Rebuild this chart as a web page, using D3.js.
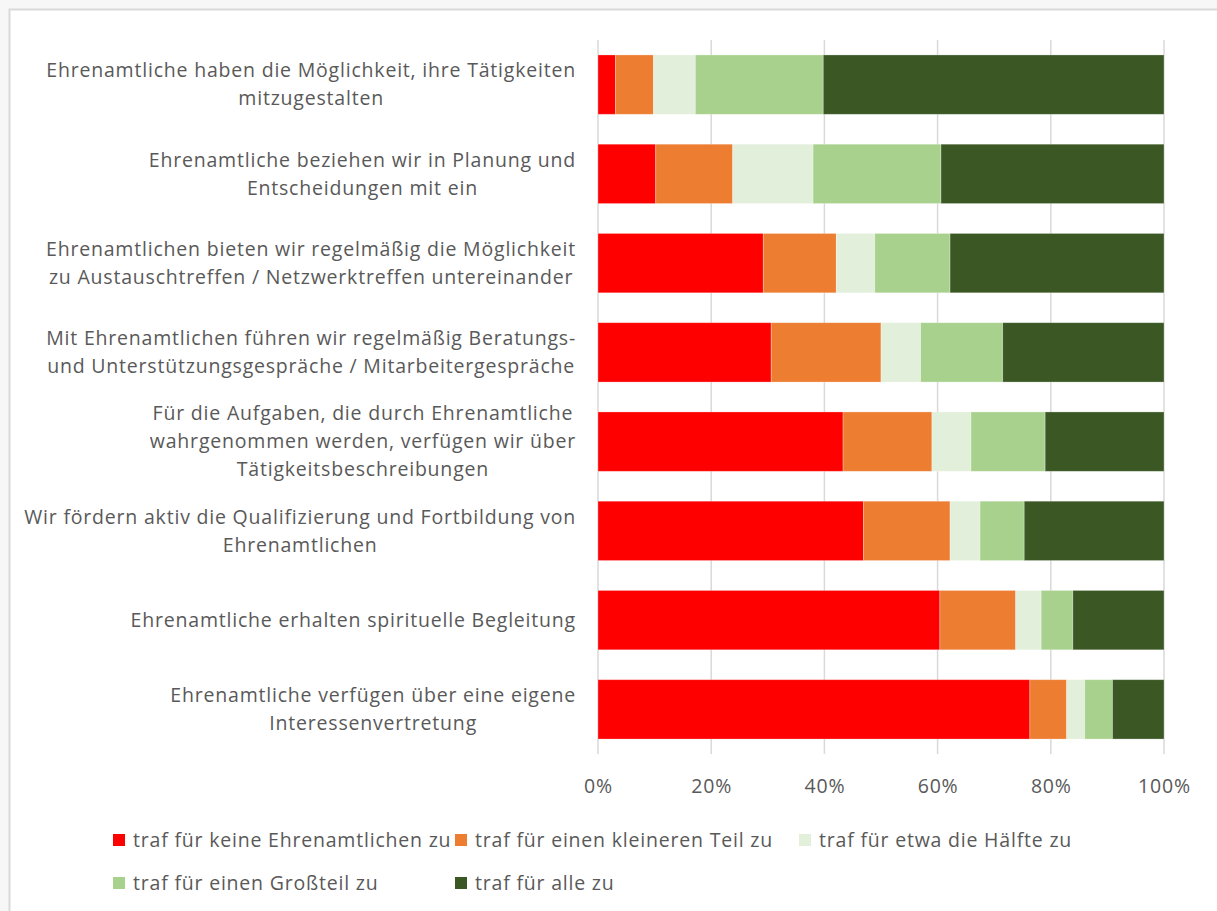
<!DOCTYPE html>
<html>
<head>
<meta charset="utf-8">
<script src="https://cdn.jsdelivr.net/npm/d3@7"></script>
<style>
  html, body { margin: 0; padding: 0; background: #ffffff; }
  svg { display: block; }
  text { font-family: "Open Sans", "Noto Sans", sans-serif; fill: #595959; }
</style>
</head>
<body>
<svg id="chart" width="1217" height="911"></svg>
<script>
// ---------- data ----------
const categories = [
  ["Ehrenamtliche haben die Möglichkeit, ihre Tätigkeiten", "mitzugestalten"],
  ["Ehrenamtliche beziehen wir in Planung und", "Entscheidungen mit ein"],
  ["Ehrenamtlichen bieten wir regelmäßig die Möglichkeit", "zu Austauschtreffen / Netzwerktreffen untereinander"],
  ["Mit Ehrenamtlichen führen wir regelmäßig Beratungs-", "und Unterstützungsgespräche / Mitarbeitergespräche"],
  ["Für die Aufgaben, die durch Ehrenamtliche", "wahrgenommen werden, verfügen wir über", "Tätigkeitsbeschreibungen"],
  ["Wir fördern aktiv die Qualifizierung und Fortbildung von", "Ehrenamtlichen"],
  ["Ehrenamtliche erhalten spirituelle Begleitung"],
  ["Ehrenamtliche verfügen über eine eigene", "Interessenvertretung"]
];
const seriesNames = [
  "traf für keine Ehrenamtlichen zu",
  "traf für einen kleineren Teil zu",
  "traf für etwa die Hälfte zu",
  "traf für einen Großteil zu",
  "traf für alle zu"
];
const keine   = [3.1, 10.2, 29.2, 30.6, 43.3, 46.9, 60.4, 76.3];
const kleiner = [6.7, 13.6, 12.9, 19.4, 15.7, 15.3, 13.4, 6.5];
const haelfte = [7.4, 14.2, 6.8, 7.0, 6.9, 5.3, 4.5, 3.2];
const grossteil = [22.6, 22.6, 13.3, 14.5, 13.1, 7.8, 5.6, 4.9];
const alle    = [60.2, 39.4, 37.8, 28.5, 21.0, 24.7, 16.1, 9.1];
const tickValues = [0, 20, 40, 60, 80, 100];
const colors = ["#FF0000", "#ED7D31", "#E2EFDA", "#A9D18E", "#3A5724"];

// ---------- layout ----------
const svg = d3.select("#chart");
const W = 1217, H = 911;
const plot = { left: 598, right: 1164, top: 40, bottom: 754 };
const fontSize = 19.5, letterSp = 0.8, lineH = 28, labelRight = 576;

// chart frame
svg.append("rect").attr("x", 0).attr("y", 0).attr("width", W).attr("height", H).attr("fill", "#f7f7f7");
svg.append("rect").attr("x", 9.5).attr("y", 9.5).attr("width", W + 20).attr("height", H + 20)
  .attr("fill", "#ffffff").attr("stroke", "#d9d9d9").attr("stroke-width", 2);

const x = d3.scaleLinear().domain([0, 100]).range([plot.left, plot.right]);
const y = d3.scaleBand().domain(d3.range(categories.length)).range([plot.top, plot.bottom]).paddingInner(0.335).paddingOuter(0.1675);

// gridlines
svg.append("g").selectAll("line").data(tickValues).join("line")
  .attr("x1", d => x(d)).attr("x2", d => x(d))
  .attr("y1", plot.top).attr("y2", plot.bottom)
  .attr("stroke", "#d9d9d9").attr("stroke-width", 1.5);

// stacked data
const rows = categories.map((c, i) => ({ i, v: [keine[i], kleiner[i], haelfte[i], grossteil[i], alle[i]] }));
const keys = [0, 1, 2, 3, 4];
const stack = d3.stack().keys(keys).value((d, k) => d.v[k]);
const layers = stack(rows);

svg.append("g").selectAll("g").data(layers).join("g")
  .attr("fill", (d, k) => colors[k])
  .selectAll("rect").data(d => d).join("rect")
  .attr("x", d => x(d[0]))
  .attr("width", d => x(d[1]) - x(d[0]))
  .attr("y", d => y(d.data.i))
  .attr("height", y.bandwidth())
  .attr("stroke", "#ffffff").attr("stroke-opacity", 0.35).attr("stroke-width", 0.8);

// x axis tick labels
const axis = d3.axisBottom(x).tickValues(tickValues).tickFormat(d => d + "%").tickSize(0).tickPadding(0);
const ax = svg.append("g").attr("transform", `translate(0,${plot.bottom + 25})`).call(axis);
ax.select(".domain").remove();
ax.selectAll("text").attr("font-size", fontSize).attr("letter-spacing", letterSp).attr("fill", "#595959")
  .attr("font-family", "\"Open Sans\", sans-serif").attr("dy", "0.35em").attr("y", 7);

// category labels (wrapped, centred lines, block right-aligned)
const lab = svg.append("g");
categories.forEach((lines, i) => {
  const g = lab.append("g");
  const cy = y(i) + y.bandwidth() / 2;
  const texts = lines.map((ln, j) => g.append("text")
    .attr("font-size", fontSize)
    .attr("letter-spacing", letterSp)
    .attr("text-anchor", "middle")
    .attr("dy", "0.35em")
    .attr("y", cy + (j - (lines.length - 1) / 2) * lineH)
    .text(ln));
  const maxW = d3.max(texts, t => t.node().getComputedTextLength());
  texts.forEach(t => t.attr("x", labelRight - maxW / 2));
});

// legend
const legendPos = [[113, 840], [455, 840], [799, 840], [113, 883], [455, 883]];
const lg = svg.append("g");
seriesNames.forEach((name, k) => {
  const [lx, ly] = legendPos[k];
  lg.append("rect").attr("x", lx).attr("y", ly - 6).attr("width", 12).attr("height", 12).attr("fill", colors[k]);
  lg.append("text").attr("x", lx + 20).attr("y", ly).attr("dy", "0.35em")
    .attr("font-size", fontSize).attr("letter-spacing", letterSp).text(name);
});
</script>
</body>
</html>
